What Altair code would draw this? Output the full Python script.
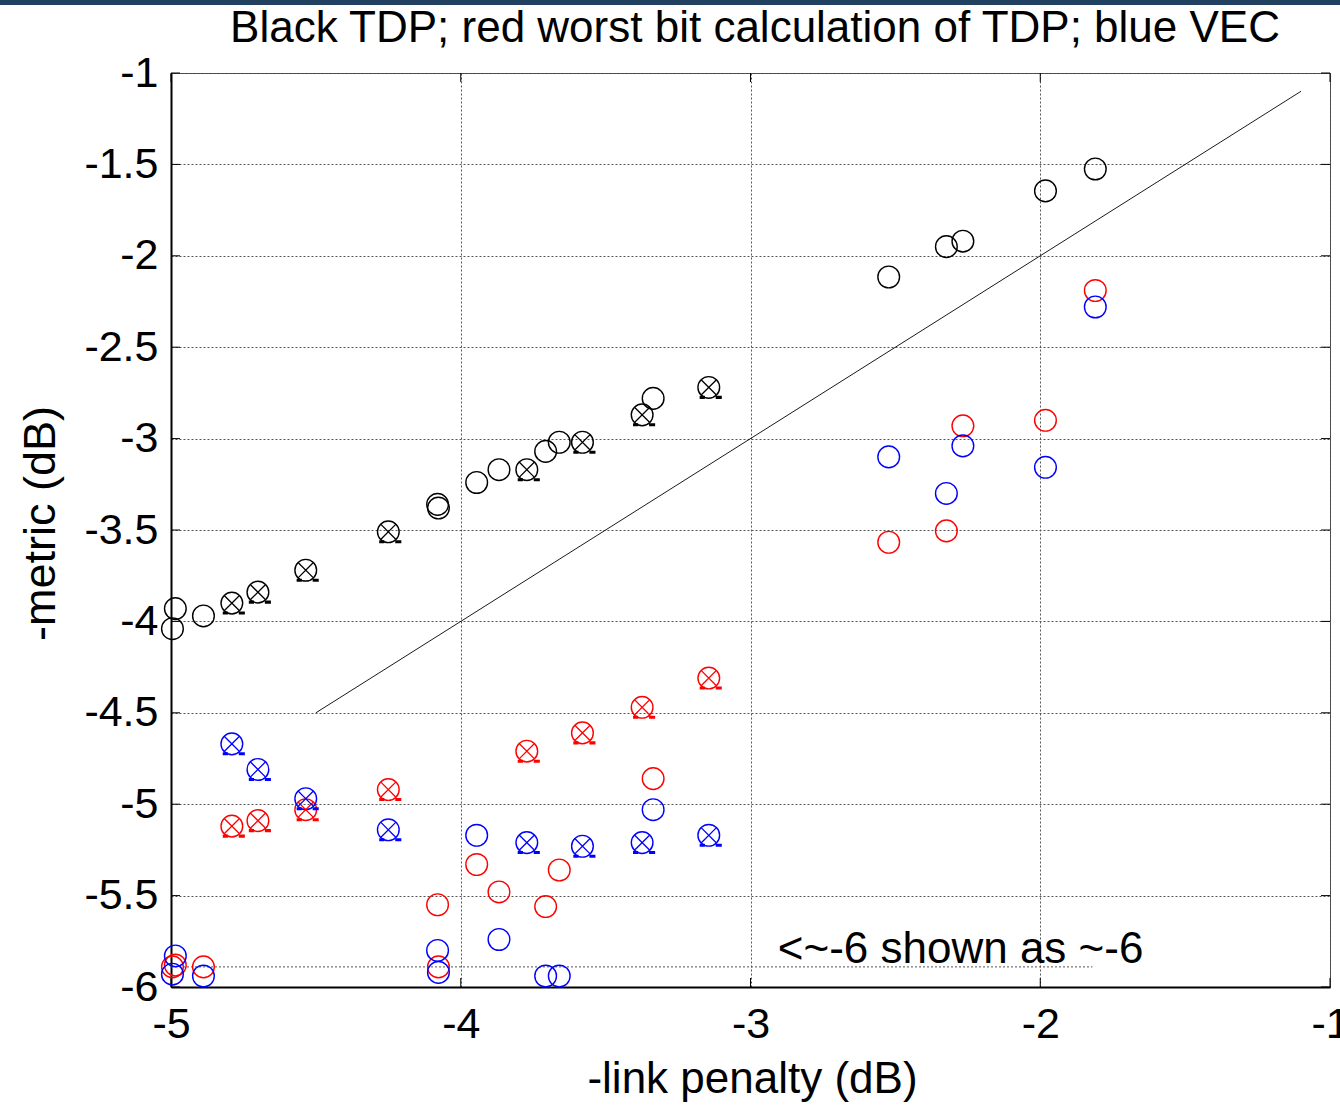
import altair as alt
import pandas as pd

# ---- data ----
x_pos = [-4.995, -4.985, -4.888, -4.79, -4.70, -4.535, -4.25, -4.08, -4.077,
         -3.945, -3.868, -3.772, -3.707, -3.66, -3.58, -3.374, -3.336, -3.144,
         -2.523, -2.324, -2.267, -1.982, -1.81]
tdp = [-4.04, -3.93, -3.97, -3.90, -3.84, -3.72, -3.51, -3.36, -3.38,
       -3.24, -3.17, -3.17, -3.07, -3.02, -3.02, -2.87, -2.78, -2.72,
       -2.116, -1.95, -1.92, -1.645, -1.525]
worst = [-5.89, -5.88, -5.89, -5.12, -5.09, -5.03, -4.92, -5.55, -5.89,
         -5.33, -5.48, -4.71, -5.56, -5.36, -4.61, -4.47, -4.86, -4.31,
         -3.567, -3.505, -2.93, -2.90, -2.19]
vec = [-5.93, -5.83, -5.94, -4.67, -4.81, -4.97, -5.14, -5.80, -5.92,
       -5.17, -5.74, -5.21, -5.94, -5.94, -5.23, -5.21, -5.03, -5.17,
       -3.10, -3.30, -3.04, -3.157, -2.28]
crossed = [False, False, False, True, True, True, True, False, False,
           False, False, True, False, False, True, True, False, True,
           False, False, False, False, False]

series_names = ["TDP", "worst bit TDP", "VEC"]
series_colors = ["#000000", "#ff0000", "#0000ff"]

diag_x = [-4.5, -1.1]
diag_y = [-4.5, -1.1]

floor_x = [-5.0]
floor_x2 = [-1.82]
floor_y = [-5.89]

note_x = [-2.906]
note_y = [-5.89]
note_text = ["<~-6 shown as ~-6"]

x_ticks = [-5, -4, -3, -2, -1]
y_ticks = [-6, -5.5, -5, -4.5, -4, -3.5, -3, -2.5, -2, -1.5, -1]

title_text = ["Black TDP; red worst bit calculation of TDP; blue VEC"]
x_title = "-link penalty (dB)"
y_title = "-metric (dB)"

# ---- build tables ----
rows = []
for name, vals in zip(series_names, [tdp, worst, vec]):
    for i, x in enumerate(x_pos):
        rows.append({"x": x, "y": vals[i], "series": name, "crossed": crossed[i]})
df = pd.DataFrame(rows)
df_cross = df[df["crossed"]]

diag_df = pd.DataFrame({"x": diag_x, "y": diag_y})
floor_df = pd.DataFrame({"x": floor_x, "x2": floor_x2, "y": floor_y})
note_df = pd.DataFrame({"x": note_x, "y": note_y, "t": note_text})
xt_df = pd.DataFrame({"x": x_ticks})
yt_df = pd.DataFrame({"y": y_ticks})
title_df = pd.DataFrame({"t": title_text})
one_df = pd.DataFrame({"a": [0]})

W, H = 1159, 914
FONT = "Liberation Sans"
GRID = "#555555"

xs = alt.Scale(domain=[-5, -1], nice=False, zero=False)
ys = alt.Scale(domain=[-6, -1], nice=False, zero=False)
cs = alt.Scale(domain=series_names, range=series_colors)

x_axis = alt.Axis(values=x_ticks, labelExpr="'' + datum.value", grid=True,
                  gridColor=GRID, gridDash=[2, 2], gridWidth=1, ticks=False,
                  domain=True, domainColor="#000000", domainWidth=2,
                  labelFont=FONT, labelFontSize=43, labelColor="#000000",
                  labelPadding=16, labelFlush=False, labelOverlap=False,
                  title=x_title, titleFont=FONT, titleFontSize=44,
                  titleFontWeight="normal", titleColor="#000000",
                  titleX=581, titleY=105, titleBaseline="alphabetic",
                  titleAlign="center")
y_axis = alt.Axis(values=y_ticks, labelExpr="'' + datum.value", grid=True,
                  gridColor=GRID, gridDash=[2, 2], gridWidth=1, ticks=False,
                  domain=True, domainColor="#000000", domainWidth=2,
                  labelFont=FONT, labelFontSize=43, labelColor="#000000",
                  labelPadding=13, labelFlush=False, labelOverlap=False,
                  title=y_title, titleFont=FONT, titleFontSize=45,
                  titleFontWeight="normal", titleColor="#000000",
                  titleX=-117, titleY=450, titleAngle=270,
                  titleBaseline="alphabetic", titleAlign="center")

X = alt.X("x:Q", scale=xs, axis=x_axis)
Y = alt.Y("y:Q", scale=ys, axis=y_axis)

diag = alt.Chart(diag_df).mark_line(color="#000000", strokeWidth=0.9).encode(x=X, y=Y)

floor = alt.Chart(floor_df).mark_rule(color=GRID, strokeDash=[2, 2], strokeWidth=1).encode(
    x=X, x2="x2:Q", y=Y)

note = alt.Chart(note_df).mark_text(align="left", baseline="alphabetic", dy=-4,
                                    font=FONT, fontSize=44, color="#000000").encode(
    x=X, y=Y, text="t:N")

TL = 9
tick_b = alt.Chart(xt_df).mark_rule(color="#000000", strokeWidth=1).encode(
    x=X, y=alt.value(H - TL), y2=alt.value(H))
tick_t = alt.Chart(xt_df).mark_rule(color="#000000", strokeWidth=1).encode(
    x=X, y=alt.value(0), y2=alt.value(TL))
tick_l = alt.Chart(yt_df).mark_rule(color="#000000", strokeWidth=1).encode(
    y=Y, x=alt.value(0), x2=alt.value(TL))
tick_r = alt.Chart(yt_df).mark_rule(color="#000000", strokeWidth=1).encode(
    y=Y, x=alt.value(W - TL), x2=alt.value(W))

SIZE = 470
C = alt.Color("series:N", scale=cs, legend=None)

circles = alt.Chart(df).mark_point(shape="circle", filled=False, size=SIZE,
                                   strokeWidth=1.4, opacity=1).encode(x=X, y=Y, color=C)
xmark = alt.Chart(df_cross).mark_point(
    shape="M-0.7071,-0.7071L0.7071,0.7071M-0.7071,0.7071L0.7071,-0.7071",
    filled=False, size=SIZE, strokeWidth=1.3, opacity=1).encode(x=X, y=Y, color=C)
dashes = alt.Chart(df_cross).mark_point(
    shape="M-0.84,0.78L-0.36,0.78L-0.36,1.06L-0.84,1.06ZM0.64,0.78L1.2,0.78L1.2,1.06L0.64,1.06Z",
    filled=True, size=SIZE, strokeWidth=0, opacity=1).encode(x=X, y=Y, color=C)

title = alt.Chart(title_df).mark_text(align="center", baseline="alphabetic", font=FONT,
                                      fontSize=44, color="#000000").encode(
    x=alt.value(584), y=alt.value(-31), text="t:N")

band = alt.Chart(one_df).mark_rect(color="#22405f").encode(
    x=alt.value(-171), x2=alt.value(W + 10), y=alt.value(-73), y2=alt.value(-68))

chart = alt.layer(
    band, diag, floor, note, tick_b, tick_t, tick_l, tick_r, circles, xmark, dashes, title
).properties(
    width=W, height=H,
    padding={"left": 171, "top": 73, "right": 10, "bottom": 118},
    autosize=alt.AutoSizeParams(type="none"),
    background="#ffffff",
).configure_view(stroke="#444444", strokeWidth=1)

chart.save("out.html", embed_options={"renderer": "svg", "actions": False})
